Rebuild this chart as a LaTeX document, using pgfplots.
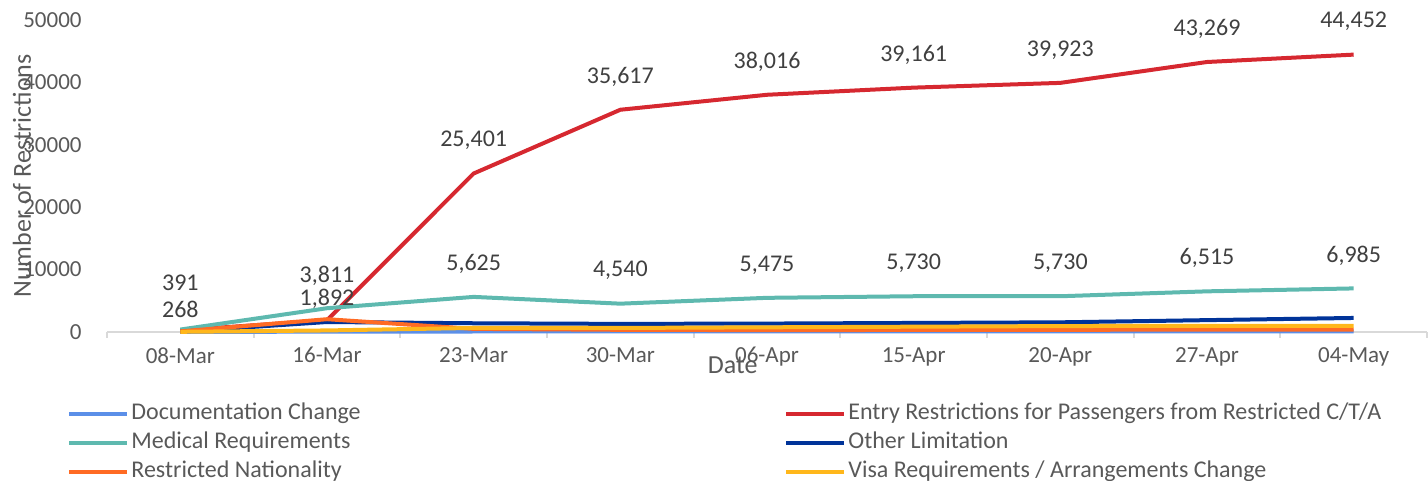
\documentclass[border=0pt]{standalone}
\usepackage{pgfplots}
\pgfplotsset{compat=1.18}
\usepackage{fontspec}
\setmainfont{Carlito}
\definecolor{txt}{RGB}{89,89,89}
\definecolor{lab}{RGB}{64,64,64}
\definecolor{axl}{RGB}{217,217,217}
\definecolor{cdoc}{RGB}{91,143,232}
\definecolor{cent}{RGB}{214,40,48}
\definecolor{cmed}{RGB}{94,185,175}
\definecolor{coth}{RGB}{0,51,153}
\definecolor{cres}{RGB}{255,107,36}
\definecolor{cvis}{RGB}{255,183,27}
\begin{document}
\begin{tikzpicture}
\begin{axis}[
  at={(53.5pt,74.5pt)}, anchor=south west,
  scale only axis, width=660pt, height=156pt,
  xmin=-0.5, xmax=8.5, ymin=0, ymax=50000,
  xtick={0,...,8},
  xticklabels={08-Mar,16-Mar,23-Mar,30-Mar,06-Apr,15-Apr,20-Apr,27-Apr,04-May},
  minor xtick={-0.5,0.5,...,8.5},
  ytick={0,10000,20000,30000,40000,50000},
  scaled y ticks=false,
  /pgf/number format/.cd, 1000 sep={}, assume math mode=true, /pgfplots/.cd,
  major tick length=0pt, minor tick length=3pt,
  tick align=outside,
  tick style={draw=axl, line width=1pt},
  axis lines*=left,
  axis line style={-},
  x axis line style={draw=axl, line width=1pt},
  y axis line style={draw=none},
  xticklabel style={font=\fontsize{11.5}{13}\selectfont, text=txt, anchor=north, inner sep=0pt, yshift=-7.5pt},
  yticklabel style={font=\fontsize{11.5}{13}\selectfont, text=txt, anchor=east, inner sep=0pt, xshift=-12.5pt},
  xlabel={Date},
  xlabel style={font=\fontsize{13}{15}\selectfont, text=txt, at={(axis description cs:0.474,0)}, anchor=center, yshift=-16.5pt},
  ylabel={Number of Restrictions},
  ylabel style={font=\fontsize{13}{15}\selectfont, text=txt, at={(axis description cs:-0.0644,0.5)}, anchor=center, rotate=0},
  every axis plot/.append style={line width=2pt, mark=none},
  legend columns=2,
  legend cell align=left,
  legend image code/.code={\draw[#1] (0pt,0pt) -- (29pt,0pt);},
  legend style={at={(rel axis cs:0,0)}, anchor=north west, xshift=-20pt, yshift=-35.5pt,
    draw=none, fill=none, inner sep=0pt, font=\fontsize{12}{14}\selectfont, text=txt,
    nodes={inner sep=0pt, text height=8pt, text depth=2.5pt}, row sep=4pt, column sep=0pt},
  clip=false,
]
\addplot[cdoc] coordinates {(0,20) (1,50) (2,80) (3,80) (4,80) (5,80) (6,80) (7,80) (8,80)};
\addlegendentry{\makebox[327.5pt][l]{\hspace{1pt}Documentation Change}}
\addplot[cent, nodes near coords, point meta=explicit symbolic,
  every node near coord/.append style={anchor=center, yshift=16.5pt, text=lab, font=\fontsize{12}{14}\selectfont}]
  table[x=x, y=y, meta=lab] {
x y lab
0 268 {}
1 1892 {}
2 25401 25,401
3 35617 35,617
4 38016 38,016
5 39161 39,161
6 39923 39,923
7 43269 43,269
8 44452 44,452
};
\addlegendentry{\hspace{1pt}Entry Restrictions for Passengers from Restricted C/T/A}
\addplot[cmed, nodes near coords, point meta=explicit symbolic,
  every node near coord/.append style={anchor=center, yshift=16.5pt, text=lab, font=\fontsize{12}{14}\selectfont}]
  table[x=x, y=y, meta=lab] {
x y lab
0 391 {}
1 3811 {}
2 5625 5,625
3 4540 4,540
4 5475 5,475
5 5730 5,730
6 5730 5,730
7 6515 6,515
8 6985 6,985
};
\addlegendentry{\makebox[327.5pt][l]{\hspace{1pt}Medical Requirements}}
\addplot[coth] coordinates {(0,50) (1,1600) (2,1400) (3,1300) (4,1350) (5,1450) (6,1550) (7,1900) (8,2250)};
\addlegendentry{\hspace{1pt}Other Limitation}
\addplot[cres] coordinates {(0,100) (1,2050) (2,500) (3,350) (4,300) (5,330) (6,350) (7,380) (8,400)};
\addlegendentry{\makebox[327.5pt][l]{\hspace{1pt}Restricted Nationality}}
\addplot[cvis] coordinates {(0,30) (1,250) (2,650) (3,650) (4,750) (5,850) (6,950) (7,1000) (8,1000)};
\addlegendentry{\hspace{1pt}Visa Requirements / Arrangements Change}
\node[text=lab, font=\fontsize{12}{14}\selectfont] at (axis cs:0,7853) {391};
\node[text=lab, font=\fontsize{12}{14}\selectfont] at (axis cs:0,3686) {268};
\node[text=lab, font=\fontsize{12}{14}\selectfont] at (axis cs:1,8974) {3,811};
\node[text=lab, font=\fontsize{12}{14}\selectfont] at (axis cs:1,5288) {1,892};
\end{axis}
\pgfresetboundingbox
\path[use as bounding box] (0,0) rectangle (714pt,240.5pt);
\end{tikzpicture}
\end{document}
